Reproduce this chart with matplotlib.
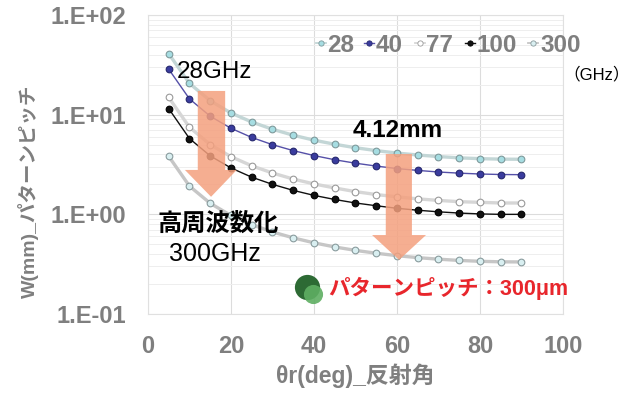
import matplotlib.pyplot as plt
from matplotlib.patches import Polygon
from matplotlib.lines import Line2D
from matplotlib.ticker import LogLocator, FixedLocator

plt.rcParams["font.family"] = ["Liberation Sans", "Noto Sans CJK JP"]

# 反射角 (deg)
theta = [5, 10, 15, 20, 25, 30, 35, 40, 45, 50, 55, 60, 65, 70, 75, 80, 85, 90]

# パターンピッチ W (mm) — 周波数ごと
w_28 = [40.9, 20.6, 13.8, 10.4, 8.45, 7.14, 6.22, 5.55, 5.05, 4.66, 4.36, 4.12,
        3.94, 3.80, 3.69, 3.62, 3.58, 3.57]
w_40 = [28.6, 14.4, 9.65, 7.30, 5.91, 5.00, 4.36, 3.89, 3.53, 3.26, 3.05, 2.88,
        2.76, 2.66, 2.59, 2.54, 2.51, 2.50]
w_77 = [14.9, 7.47, 5.01, 3.79, 3.07, 2.60, 2.26, 2.02, 1.84, 1.69, 1.58, 1.50,
        1.43, 1.38, 1.34, 1.32, 1.30, 1.30]
w_100 = [11.5, 5.76, 3.86, 2.92, 2.36, 2.00, 1.74, 1.55, 1.41, 1.30, 1.22, 1.15,
         1.10, 1.06, 1.03, 1.01, 1.00, 1.00]
w_300 = [3.82, 1.92, 1.29, 0.974, 0.788, 0.666, 0.581, 0.518, 0.471, 0.435, 0.407,
         0.385, 0.368, 0.355, 0.345, 0.338, 0.334, 0.333]

# 300μm パターンの点
pitch_x = [38.3, 39.8]
pitch_y = [0.187, 0.159]

GREY = "#7f7f7f"
W, H = 637, 394

fig = plt.figure(figsize=(6.37, 3.94), dpi=100)
ax = fig.add_axes([0.2323, 0.2030, 0.6515, 0.7589])

series = [
    ("28", w_28, "#c3d6d6", 2.4, "#a6dde2", "#7f9a9c"),
    ("40", w_40, "#5550a8", 1.0, "#3a3c9e", "#26286e"),
    ("77", w_77, "#d6d6d6", 2.4, "#ffffff", "#9a9a9a"),
    ("100", w_100, "#111111", 1.0, "#111111", "#000000"),
    ("300", w_300, "#c6c6c6", 2.4, "#d9eff1", "#8a9c9e"),
]
for label, vals, lc, lw, fc, ec in series:
    ax.plot(theta, vals, color=lc, lw=lw, zorder=3)
    ax.plot(theta, vals, ls="none", marker="o", ms=4.8, mfc=fc, mec=ec, mew=0.8, zorder=4)

ax.scatter(pitch_x[:1], pitch_y[:1], s=330, color="#2d6a34", zorder=5, lw=0)
ax.scatter(pitch_x[1:], pitch_y[1:], s=190, color="#5eae62", alpha=0.9, zorder=6, lw=0)

ax.set_yscale("log")
ax.set_xlim(0, 100)
ax.set_ylim(0.1, 100)
ax.xaxis.set_major_locator(FixedLocator([0, 20, 40, 60, 80, 100]))
ax.yaxis.set_major_locator(FixedLocator([0.1, 1, 10, 100]))
ax.yaxis.set_minor_locator(LogLocator(base=10, subs=range(2, 10)))
ax.set_yticklabels(["1.E-01", "1.E+00", "1.E+01", "1.E+02"])
ax.tick_params(axis="both", which="both", length=0, labelsize=17, labelcolor=GREY)
ax.tick_params(axis="y", pad=16)
ax.tick_params(axis="x", pad=15)
for t in ax.get_xticklabels() + ax.get_yticklabels():
    t.set_fontweight("bold")

ax.grid(axis="x", which="major", color="#dcdcdc", lw=0.8)
ax.grid(axis="y", which="major", color="#dcdcdc", lw=0.8)
ax.grid(axis="y", which="minor", color="#eeeeee", lw=0.7)
ax.set_axisbelow(True)
for s in ax.spines.values():
    s.set_color("#e0e0e0")
    s.set_linewidth(0.8)

ax.set_xlabel("θr(deg)_反射角", fontsize=16.5, fontweight="bold", color=GREY, labelpad=4)
fig.text(0.044, 0.515, "W(mm)_パターンピッチ", rotation=90, fontsize=14,
         fontweight="bold", color=GREY, ha="center", va="center")

# 矢印 (data 座標)
arrow_c = "#f4a07e"
arrow1 = [(12.0, 17.3), (18.6, 17.3), (18.6, 2.79), (21.4, 2.79), (15.2, 1.50),
          (8.9, 2.79), (12.0, 2.79)]
arrow2 = [(57.3, 4.03), (63.6, 4.03), (63.6, 0.62), (67.0, 0.62), (60.5, 0.349),
          (54.0, 0.62), (57.3, 0.62)]
for pts in (arrow1, arrow2):
    ax.add_patch(Polygon(pts, closed=True, fc=arrow_c, ec="none", alpha=0.85, zorder=7))

ax.text(7.0, 26.5, "28GHz", fontsize=17.5, color="black", va="center", zorder=8)
ax.text(49.3, 6.9, "4.12mm", fontsize=17.5, fontweight="bold", color="black",
        va="center", zorder=8)
ax.text(2.2, 0.80, "高周波数化", fontsize=17.5, fontweight="bold", color="black",
        va="center", zorder=8)
ax.text(5.0, 0.40, "300GHz", fontsize=18, color="black", va="center", zorder=8)
ax.text(43.5, 0.18, "パターンピッチ：300μm", fontsize=15.5, fontweight="bold",
        color="#e8262c", va="center", zorder=8)

# 凡例 (手描き: ハンドル中心 x と文字左端 x をピクセルで指定)
leg_y = 1 - 43 / H
leg_handle_x = [321, 369, 420, 470, 533]
leg_text_x = [327, 376, 426, 476, 540]
for (label, vals, lc, lw, fc, ec), hx, tx in zip(series, leg_handle_x, leg_text_x):
    fig.add_artist(Line2D([(hx - 5) / W, (hx + 5) / W], [leg_y, leg_y], color=lc,
                          lw=min(lw, 1.3), transform=fig.transFigure))
    fig.add_artist(Line2D([hx / W], [leg_y], ls="none", marker="o", ms=3.8, mfc=fc,
                          mec=ec, mew=0.6, transform=fig.transFigure))
    fig.text(tx / W, leg_y, label, fontsize=17.5, fontweight="bold", color=GREY,
             ha="left", va="center_baseline")
fig.text(0.885, 0.812, "（GHz）", fontsize=12, color="black", ha="left", va="center")

plt.savefig("out.png", dpi=100)
plt.close()
